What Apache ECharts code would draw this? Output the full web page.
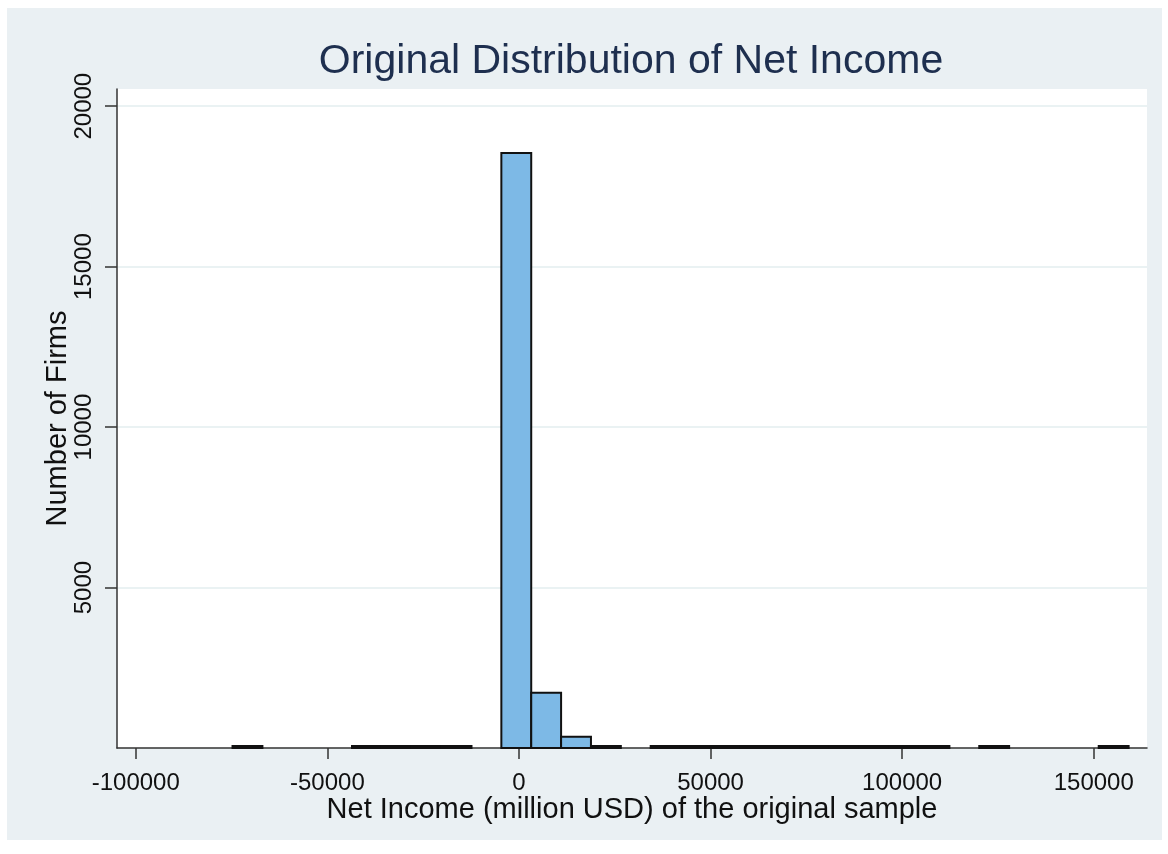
<!DOCTYPE html>
<html>
<head>
<meta charset="utf-8">
<script src="https://cdn.jsdelivr.net/npm/echarts@6/dist/echarts.min.js"></script>
<style>
html,body{margin:0;padding:0;background:#ffffff;}
#chart{width:1168px;height:854px;}
</style>
</head>
<body>
<div id="chart"></div>
<script>
// Histogram bin lower edges (million USD); last value is upper edge of final bin
const binEdges = [-74750, -66955, -59160, -51365, -43570, -35775, -27980, -20185, -12390, -4595,
  3200, 10995, 18790, 26585, 34380, 42175, 49970, 57765, 65560, 73355,
  81150, 88945, 96740, 104535, 112330, 120125, 127920, 135715, 143510, 151305, 159100];
// Number of firms in each bin
const binCounts = [1, 0, 0, 0, 2, 3, 3, 6, 0, 18540,
  1720, 350, 50, 0, 5, 4, 3, 3, 2, 2,
  2, 1, 1, 1, 0, 1, 0, 0, 0, 1];
const xTicks = [-100000, -50000, 0, 50000, 100000, 150000];
const yTicks = [5000, 10000, 15000, 20000];

const titleText = 'Original Distribution of Net Income';
const xName = 'Net Income (million USD) of the original sample';
const yName = 'Number of Firms';

const data = [];
for (let i = 0; i < binCounts.length; i++) {
  if (binCounts[i] > 0) data.push([binEdges[i], binEdges[i + 1], binCounts[i]]);
}

const font = '"Liberation Sans", Arial, Helvetica, sans-serif';
const plain = function (v) { return String(v); };
const chart = echarts.init(document.getElementById('chart'));
chart.setOption({
  animation: false,
  backgroundColor: '#ffffff',
  graphic: [{
    type: 'rect', z: -10, silent: true,
    shape: { x: 7, y: 8, width: 1155, height: 832 },
    style: { fill: '#EAF0F3' }
  }],
  title: {
    text: titleText,
    left: 626, top: 36, textAlign: 'center',
    textStyle: { fontFamily: font, fontSize: 41, fontWeight: 'normal', color: '#1E2F4F' }
  },
  grid: {
    left: 117, right: 21, top: 89, bottom: 106,
    show: true, backgroundColor: '#ffffff', borderWidth: 0
  },
  xAxis: {
    type: 'value', min: -104900, max: 163900,
    name: xName, nameLocation: 'middle', nameGap: 47, nameMoveOverlap: false,
    nameTextStyle: { fontFamily: font, fontSize: 29, color: '#111' },
    axisLine: { show: true, onZero: false, lineStyle: { color: '#333', width: 1.5 } },
    axisTick: { show: true, length: 11, customValues: xTicks, lineStyle: { color: '#333', width: 1.5 } },
    axisLabel: { customValues: xTicks, formatter: plain, margin: 23, fontFamily: font, fontSize: 24, color: '#111' },
    splitLine: { show: false }
  },
  yAxis: {
    type: 'value', min: 0, max: 20535,
    name: yName, nameLocation: 'middle', nameGap: 45, nameMoveOverlap: false,
    nameTextStyle: { fontFamily: font, fontSize: 29, color: '#111' },
    axisLine: { show: true, onZero: false, lineStyle: { color: '#333', width: 1.5 } },
    axisTick: { show: true, length: 12, customValues: yTicks, lineStyle: { color: '#333', width: 1.5 } },
    axisLabel: { customValues: yTicks, formatter: plain, rotate: 90, margin: 21, fontFamily: font, fontSize: 24, color: '#111' },
    splitLine: { show: true, customValues: yTicks, lineStyle: { color: '#EAF2F3', width: 2 } }
  },
  series: [{
    type: 'custom',
    data: data,
    encode: { x: [0, 1], y: 2 },
    renderItem: function (params, api) {
      const p0 = api.coord([api.value(0), api.value(2)]);
      const p1 = api.coord([api.value(1), 0]);
      const h = Math.max(p1[1] - p0[1], 2);
      return {
        type: 'rect',
        shape: { x: p0[0], y: p1[1] - h, width: p1[0] - p0[0], height: h },
        style: { fill: '#7DB9E6', stroke: '#111', lineWidth: 2 }
      };
    }
  }]
});
</script>
</body>
</html>
